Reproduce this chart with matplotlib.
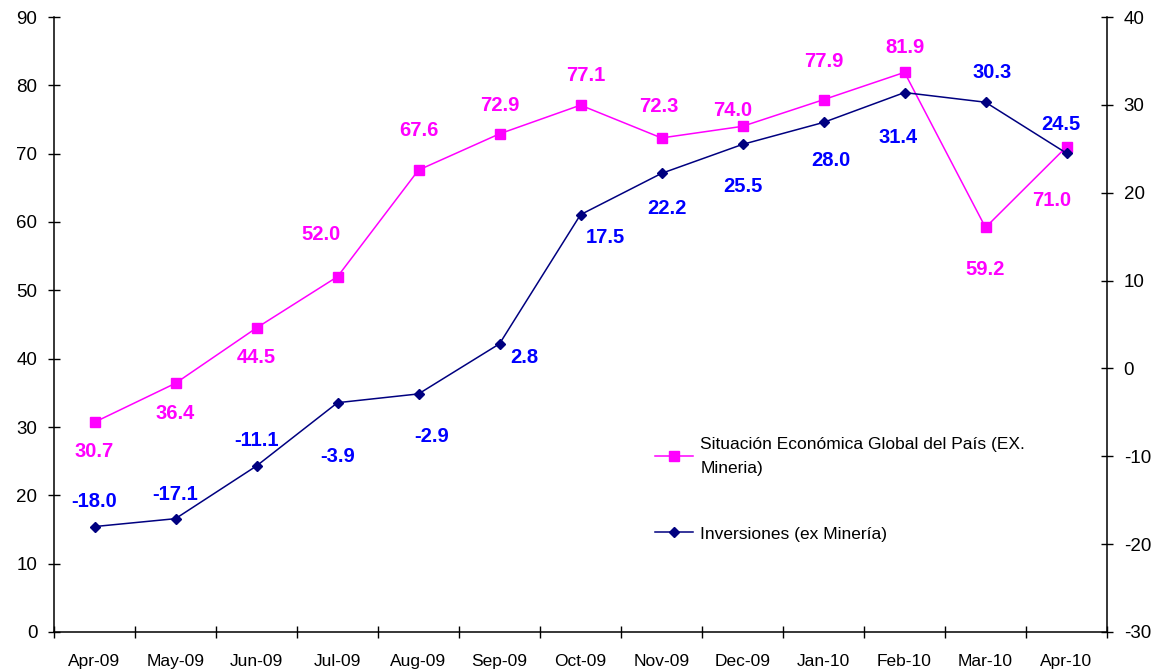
import matplotlib
matplotlib.use("Agg")
import matplotlib.pyplot as plt
import numpy as np

months = ["Apr-09", "May-09", "Jun-09", "Jul-09", "Aug-09", "Sep-09", "Oct-09",
          "Nov-09", "Dec-09", "Jan-10", "Feb-10", "Mar-10", "Apr-10"]
situacion = [30.7, 36.4, 44.5, 52.0, 67.6, 72.9, 77.1, 72.3, 74.0, 77.9, 81.9, 59.2, 71.0]
inversiones = [-18.0, -17.1, -11.1, -3.9, -2.9, 2.8, 17.5, 22.2, 25.5, 28.0, 31.4, 30.3, 24.5]

# label offsets in pixels (dx, dy)
sit_off = [(0, -29), (0, -30), (0, -30), (-16, 42), (0, 40), (0, 28), (5, 30),
           (-3, 31), (-10, 16), (0, 38), (0, 25), (0, -42), (-15, -54)]
inv_off = [(0, 25), (0, 24), (0, 25), (0, -54), (13, -43), (25, -14), (25, -23),
           (5, -35), (0, -42), (7, -38), (-6, -45), (7, 30), (-6, 29)]

plt.rcParams['font.family'] = ['Liberation Sans', 'DejaVu Sans']
plt.rcParams['axes.unicode_minus'] = False

fig = plt.figure(figsize=(11.63, 6.72), dpi=100)
ax = fig.add_axes([54/1163, 40/672, (1107-54)/1163, (632-17)/672])
ax2 = ax.twinx()

x = np.arange(len(months))
ax.plot(x, situacion, color='#FF00FF', marker='s', markersize=7.5, linewidth=1.1,
        label="Situación Económica Global del País (EX.\nMineria)", zorder=3)
ax2.plot(x, inversiones, color='#000080', marker='D', markersize=5.5, linewidth=1.1,
         label="Inversiones (ex Minería)", zorder=3)

for xi, v, (dx, dy) in zip(x, situacion, sit_off):
    ax.annotate(f"{v:.1f}", (xi, v), xytext=(dx, dy), textcoords='offset pixels',
                ha='center', va='center', color='#FF00FF', fontsize=14.5, fontweight='bold')
for xi, v, (dx, dy) in zip(x, inversiones, inv_off):
    ax2.annotate(f"{v:.1f}", (xi, v), xytext=(dx, dy), textcoords='offset pixels',
                 ha='center', va='center', color='#0000FF', fontsize=14.5, fontweight='bold')

ax.set_xlim(-0.5, len(months) - 0.5)
ax.set_ylim(0, 90)
ax2.set_ylim(-30, 40)
ax.set_yticks(np.arange(0, 91, 10))
ax2.set_yticks(np.arange(-30, 41, 10))
ax.set_xticks(x)
ax.set_xticklabels(months)
ax.set_xticks(np.arange(-0.5, len(months), 1), minor=True)
ax.tick_params(axis='x', which='major', length=0, labelsize=12.5, pad=16)
ax.tick_params(axis='x', which='minor', length=8, direction='inout', width=1)
ax.tick_params(axis='y', length=8, direction='inout', labelsize=13.5, width=1, pad=8)
ax2.tick_params(axis='y', length=8, direction='inout', labelsize=13.5, width=1, pad=8)

for a in (ax, ax2):
    a.spines['top'].set_visible(False)
    for s in ('left', 'right', 'bottom'):
        a.spines[s].set_linewidth(1.1)
ax.spines['right'].set_visible(False)
ax2.spines['left'].set_visible(False)
ax2.spines['bottom'].set_visible(False)

h1, l1 = ax.get_legend_handles_labels()
h2, l2 = ax2.get_legend_handles_labels()
leg = fig.legend(h1 + h2, l1 + l2, loc='upper left',
                 bbox_to_anchor=(655/1163, 1 - 437/672),
                 frameon=False, fontsize=12.5, labelspacing=2.9, handlelength=2.2,
                 handletextpad=0.4, borderpad=0, borderaxespad=0)
for t in leg.get_texts():
    t.set_linespacing(1.75)

fig.savefig("out.png", dpi=100)
